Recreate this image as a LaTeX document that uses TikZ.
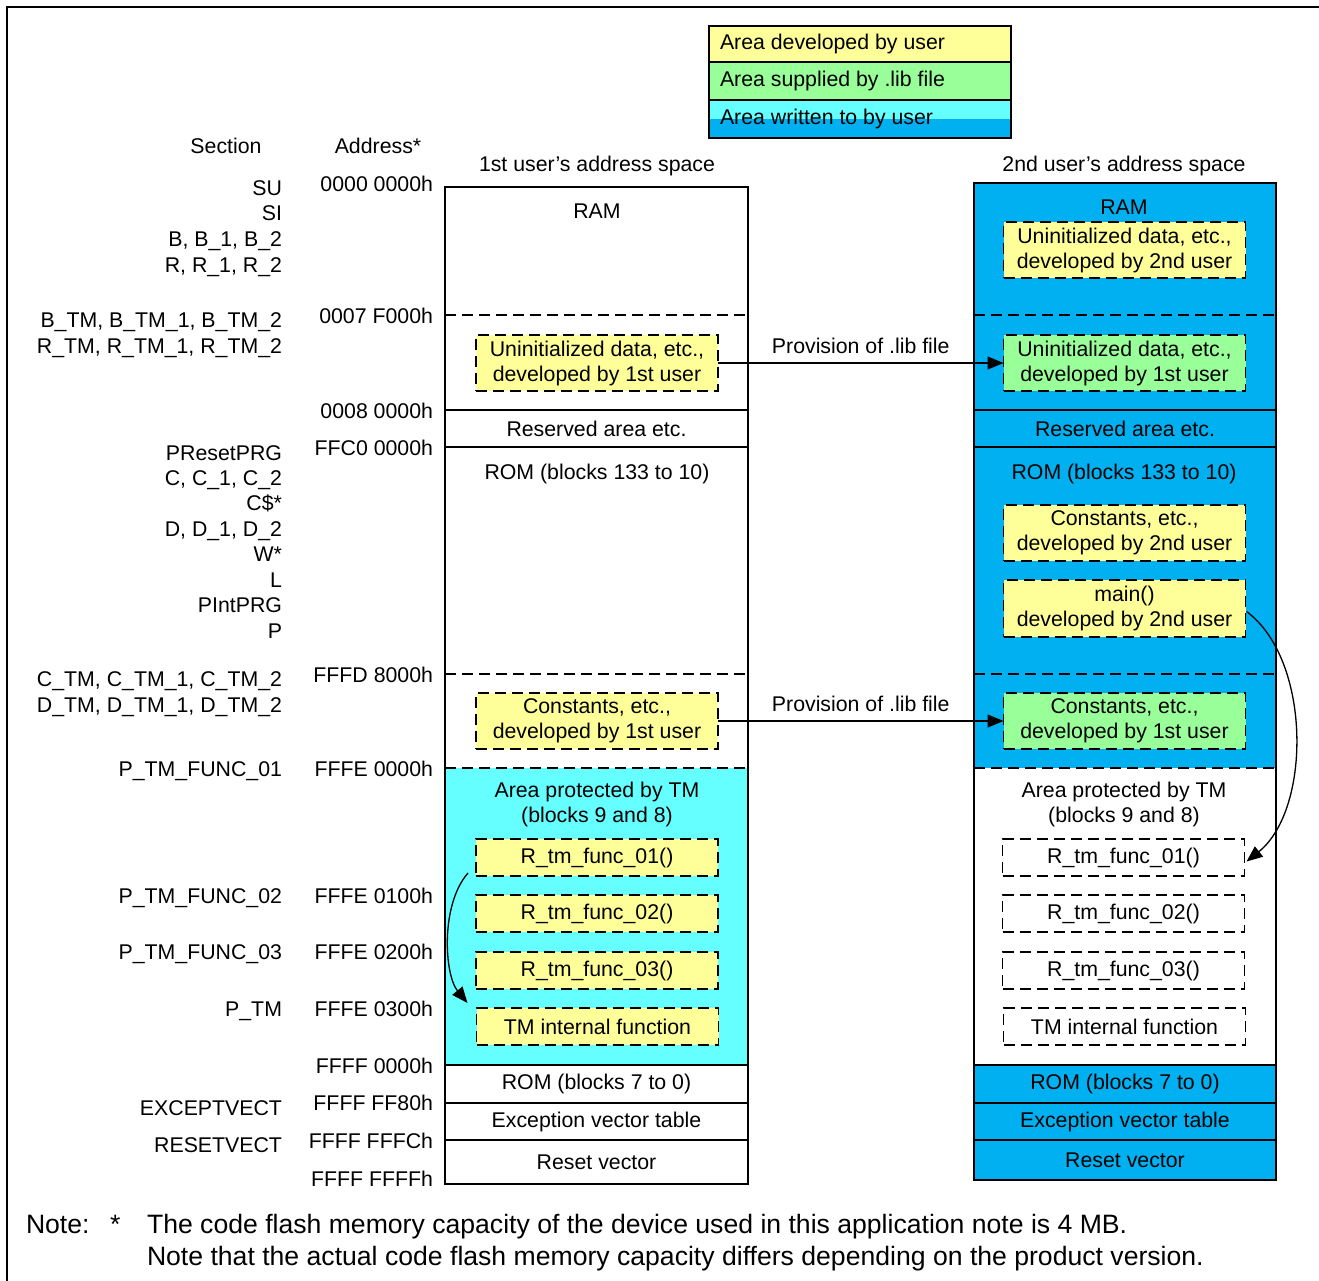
\documentclass[tikz,border=0pt]{standalone}
\usepackage{fontspec}
\setmainfont{Liberation Sans}
\usetikzlibrary{arrows.meta,calc}

\definecolor{devyel}{HTML}{FFFF99}
\definecolor{libgreen}{HTML}{99FF99}
\definecolor{tmcyan}{HTML}{66FFFF}
\definecolor{wrblue}{HTML}{00B0F0}

\newcommand\mainsz{\fontsize{21.3}{25}\selectfont}
\newcommand\notesz{\fontsize{26.6}{32}\selectfont}

\tikzset{
  every node/.style={font=\mainsz, inner sep=0pt, outer sep=0pt},
  area/.style={anchor=north west, draw=none},
  lcol/.style={area, minimum width=303pt},
  rcol/.style={area, minimum width=302pt},
  divsolid/.style={line width=1.3pt},
  divdash/.style={line width=1.5pt, dash pattern=on 11pt off 6pt},
  ubox/.style={draw, line width=1.5pt, dash pattern=on 11pt off 6pt,
    minimum width=242pt, align=center},
  twoline/.style={ubox, minimum height=56pt},
  oneline/.style={ubox, minimum height=37pt},
  seclbl/.style={anchor=base east},
  addrlbl/.style={anchor=base east},
  arr/.style={line width=1.3pt, -{Triangle[length=16pt,width=13pt]}},
}

\begin{document}
\begin{tikzpicture}[x=1pt,y=-1pt]
\useasboundingbox (0,0) rectangle (1319,1280);

% outer frame
\draw[line width=2pt] (1330,7) -- (7,7) -- (7,1290);

% legend
\node[area, fill=devyel, minimum width=302pt, minimum height=36pt] (leg1) at (709,26) {};
\node[area, fill=libgreen, minimum width=302pt, minimum height=38pt] (leg2) at (709,62) {};
\node[area, fill=tmcyan, minimum width=302pt, minimum height=38pt] (leg3) at (709,100) {};
\fill[wrblue] (leg3.west) rectangle (leg3.south east);
\draw[line width=1.3pt] (leg1.north west) rectangle (leg3.south east);
\draw[line width=1.3pt] (leg1.south west) -- (leg1.south east);
\draw[line width=1.3pt] (leg2.south west) -- (leg2.south east);
\node[anchor=west] (legt1) at ([xshift=11pt]leg1.west) {Area developed by user};
\node[anchor=west] (legt2) at ([xshift=11pt]leg2.west) {Area supplied by .lib file};
\node[anchor=west] (legt3) at ([xshift=11pt]leg3.west) {Area written to by user};

% column headers
\node[anchor=base] (hsec) at (226,153) {Section};
\node[anchor=base] (hadr) at (378,153) {Address*};
\node[anchor=base] (h1st) at (597,171) {1st user’s address space};
\node[anchor=base] (h2nd) at (1124,171) {2nd user’s address space};

% ---------- 1st user's address space ----------
\node[lcol, fill=white, minimum height=128pt] (lram) at (445,187) {};
\node[lcol, fill=white, minimum height=95pt] (luninit) at (445,315) {};
\node[lcol, fill=white, minimum height=37pt] (lres) at (445,410) {Reserved area etc.};
\node[lcol, fill=white, minimum height=227pt] (lrom) at (445,447) {};
\node[lcol, fill=white, minimum height=94pt] (lconst) at (445,674) {};
\node[lcol, fill=tmcyan, minimum height=297pt] (ltm) at (445,768) {};
\node[lcol, fill=white, minimum height=38pt] (lrom7) at (445,1065) {ROM (blocks 7 to 0)};
\node[lcol, fill=white, minimum height=37pt] (lexc) at (445,1103) {Exception vector table};
\node[lcol, fill=white, minimum height=44pt] (lrst) at (445,1140) {Reset vector};

\draw[divdash] (lram.south west) -- (lram.south east);
\draw[divsolid] (luninit.south west) -- (luninit.south east);
\draw[divsolid] (lres.south west) -- (lres.south east);
\draw[divdash] (lrom.south west) -- (lrom.south east);
\draw[divdash] (lconst.south west) -- (lconst.south east);
\draw[divsolid] (ltm.south west) -- (ltm.south east);
\draw[divsolid] (lrom7.south west) -- (lrom7.south east);
\draw[divsolid] (lexc.south west) -- (lexc.south east);
\draw[divsolid] (lram.north west) rectangle (lrst.south east);

\node[anchor=base] (lramt) at (597,218) {RAM};
\node[anchor=base] (lromt) at (597,479) {ROM (blocks 133 to 10)};
\node[align=center] (ltmt) at (597,804) {Area protected by TM\\(blocks 9 and 8)};

\node[twoline, fill=devyel] (luser1) at (597,363) {Uninitialized data, etc.,\\developed by 1st user};
\node[twoline, fill=devyel] (lconstu) at (597,721) {Constants, etc.,\\developed by 1st user};
\node[oneline, fill=devyel] (lf1) at (597,857.5) {R\_tm\_func\_01()};
\node[oneline, fill=devyel] (lf2) at (597,913.5) {R\_tm\_func\_02()};
\node[oneline, fill=devyel] (lf3) at (597,970.5) {R\_tm\_func\_03()};
\node[oneline, fill=devyel] (ltmi) at (597.5,1026.5) {TM internal function};

% ---------- 2nd user's address space ----------
\node[rcol, fill=wrblue, minimum height=132pt] (rram) at (974,183) {};
\node[rcol, fill=wrblue, minimum height=95pt] (runinit) at (974,315) {};
\node[rcol, fill=wrblue, minimum height=37pt] (rres) at (974,410) {Reserved area etc.};
\node[rcol, fill=wrblue, minimum height=227pt] (rrom) at (974,447) {};
\node[rcol, fill=wrblue, minimum height=94pt] (rconst) at (974,674) {};
\node[rcol, fill=white, minimum height=297pt] (rtm) at (974,768) {};
\node[rcol, fill=wrblue, minimum height=38pt] (rrom7) at (974,1065) {ROM (blocks 7 to 0)};
\node[rcol, fill=wrblue, minimum height=37pt] (rexc) at (974,1103) {Exception vector table};
\node[rcol, fill=wrblue, minimum height=40pt] (rrst) at (974,1140) {Reset vector};

\draw[divdash] (rram.south west) -- (rram.south east);
\draw[divsolid] (runinit.south west) -- (runinit.south east);
\draw[divsolid] (rres.south west) -- (rres.south east);
\draw[divdash] (rrom.south west) -- (rrom.south east);
\draw[divdash] (rconst.south west) -- (rconst.south east);
\draw[divsolid] (rtm.south west) -- (rtm.south east);
\draw[divsolid] (rrom7.south west) -- (rrom7.south east);
\draw[divsolid] (rexc.south west) -- (rexc.south east);
\draw[divsolid] (rram.north west) rectangle (rrst.south east);

\node[anchor=base] (rramt) at (1124,214) {RAM};
\node[anchor=base] (rromt) at (1124,479) {ROM (blocks 133 to 10)};
\node[align=center] (rtmt) at (1124,804) {Area protected by TM\\(blocks 9 and 8)};

\node[twoline, fill=devyel] (ruser2) at (1124.5,250) {Uninitialized data, etc.,\\developed by 2nd user};
\node[twoline, fill=libgreen] (rlib1) at (1124.5,363) {Uninitialized data, etc.,\\developed by 1st user};
\node[twoline, fill=devyel] (rconst2) at (1124.5,533) {Constants, etc.,\\developed by 2nd user};
\node[ubox, fill=devyel, minimum height=57pt] (rmain) at (1124.5,608.5) {main()\\developed by 2nd user};
\node[twoline, fill=libgreen] (rlibc) at (1124.5,721) {Constants, etc.,\\developed by 1st user};
\node[oneline, fill=white] (rf1) at (1123.5,857.5) {R\_tm\_func\_01()};
\node[oneline, fill=white] (rf2) at (1123.5,913.5) {R\_tm\_func\_02()};
\node[oneline, fill=white] (rf3) at (1123.5,970.5) {R\_tm\_func\_03()};
\node[oneline, fill=white] (rtmi) at (1124.5,1026.5) {TM internal function};

% ---------- connectors ----------
\draw[arr] (luser1.east) -- node[above=9pt] (prov1) {Provision of .lib file} (rlib1.west);
\draw[arr] (lconstu.east) -- node[above=9pt] (prov2) {Provision of .lib file} (rlibc.west);
\draw[arr] ([xshift=-8pt,yshift=3pt]lf1.south west)
  .. controls +(-28,32) and +(-23,-28) .. ([xshift=-9pt,yshift=5pt]ltmi.north west);
\draw[arr] ([xshift=1pt,yshift=-3pt]rmain.east)
  .. controls +(65,48) and +(65,-52) .. ([xshift=2pt,yshift=-4pt]rf1.east);

% ---------- section names ----------
\node[seclbl] (sSU) at (282,195) {SU};
\node[seclbl] (sSI) at (282,220) {SI};
\node[seclbl] (sB) at (282,246) {B, B\_1, B\_2};
\node[seclbl] (sR) at (282,272) {R, R\_1, R\_2};
\node[seclbl] (sBTM) at (282,327) {B\_TM, B\_TM\_1, B\_TM\_2};
\node[seclbl] (sRTM) at (282,353) {R\_TM, R\_TM\_1, R\_TM\_2};
\node[seclbl] (sPR) at (282,460) {PResetPRG};
\node[seclbl] (sC) at (282,485) {C, C\_1, C\_2};
\node[seclbl] (sCd) at (282,510) {C\$*};
\node[seclbl] (sD) at (282,536) {D, D\_1, D\_2};
\node[seclbl] (sW) at (282,561) {W*};
\node[seclbl] (sL) at (282,587) {L};
\node[seclbl] (sPI) at (282,612) {PIntPRG};
\node[seclbl] (sP) at (282,638) {P};
\node[seclbl] (sCTM) at (282,686) {C\_TM, C\_TM\_1, C\_TM\_2};
\node[seclbl] (sDTM) at (282,712) {D\_TM, D\_TM\_1, D\_TM\_2};
\node[seclbl] (sF1) at (282,776) {P\_TM\_FUNC\_01};
\node[seclbl] (sF2) at (282,903) {P\_TM\_FUNC\_02};
\node[seclbl] (sF3) at (282,959) {P\_TM\_FUNC\_03};
\node[seclbl] (sPTM) at (282,1016) {P\_TM};
\node[seclbl] (sEX) at (282,1115) {EXCEPTVECT};
\node[seclbl] (sRS) at (282,1152) {RESETVECT};

% ---------- addresses ----------
\node[addrlbl] (a1) at (433,191) {0000 0000h};
\node[addrlbl] (a2) at (433,323) {0007 F000h};
\node[addrlbl] (a3) at (433,418) {0008 0000h};
\node[addrlbl] (a4) at (433,455) {FFC0 0000h};
\node[addrlbl] (a5) at (433,682) {FFFD 8000h};
\node[addrlbl] (a6) at (433,776) {FFFE 0000h};
\node[addrlbl] (a7) at (433,903) {FFFE 0100h};
\node[addrlbl] (a8) at (433,959) {FFFE 0200h};
\node[addrlbl] (a9) at (433,1016) {FFFE 0300h};
\node[addrlbl] (a10) at (433,1073) {FFFF 0000h};
\node[addrlbl] (a11) at (433,1110) {FFFF FF80h};
\node[addrlbl] (a12) at (433,1148) {FFFF FFFCh};
\node[addrlbl] (a13) at (433,1186) {FFFF FFFFh};

% ---------- note ----------
\node[anchor=base west, font=\notesz] (nlbl) at (26,1233) {Note:};
\node[anchor=base west, font=\notesz] (nstar) at (110,1233) {*};
\node[anchor=base west, font=\notesz] (n1) at (147,1233) {The code flash memory capacity of the device used in this application note is 4 MB.};
\node[anchor=base west, font=\notesz] (n2) at (147,1265) {Note that the actual code flash memory capacity differs depending on the product version.};
\end{tikzpicture}
\end{document}
